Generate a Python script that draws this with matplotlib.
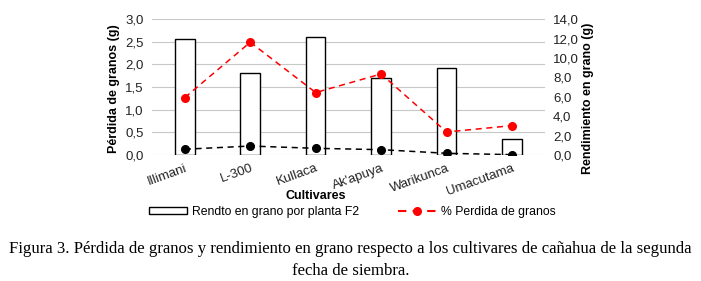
import matplotlib
matplotlib.use("Agg")
import matplotlib.pyplot as plt
from matplotlib.patches import Patch
from matplotlib.lines import Line2D
from matplotlib.ticker import FuncFormatter

cultivares = ["Illimani", "L-300", "Kullaca", "Ak'apuya", "Warikunca", "Umacutama"]
rendimiento = [12.0, 8.5, 12.2, 7.9, 9.0, 1.7]        # eje derecho (g)
perdida_pct = [1.27, 2.49, 1.38, 1.79, 0.51, 0.65]   # linea roja, eje izquierdo
perdida_g = [0.13, 0.20, 0.15, 0.12, 0.04, 0.01]     # linea negra, eje izquierdo

plt.rcParams['font.family'] = ['Liberation Sans', 'DejaVu Sans']

fig = plt.figure(figsize=(7.01, 2.81), dpi=100)
ax = fig.add_axes([0.217, 0.448, 0.56, 0.484])
ax2 = ax.twinx()

x = list(range(len(cultivares)))

# barras en el eje derecho
ax2.bar(x, rendimiento, width=0.3, facecolor='white', edgecolor='black', linewidth=1.0, zorder=2)
ax2.set_ylim(0, 14)
ax2.set_yticks([0, 2, 4, 6, 8, 10, 12, 14])

# lineas en el eje izquierdo (dibujado encima)
ax.set_zorder(ax2.get_zorder() + 1)
ax.patch.set_visible(False)
ax.plot(x, perdida_pct, color='red', linestyle=(0, (4, 3)), linewidth=1.1,
        marker='o', markersize=5.5, zorder=3)
ax.plot(x, perdida_g, color='black', linestyle=(0, (4, 3)), linewidth=1.1,
        marker='o', markersize=5.5, zorder=3)
ax.set_ylim(0, 3)
ax.set_yticks([0, 0.5, 1, 1.5, 2, 2.5, 3])
ax.set_xlim(-0.5, len(cultivares) - 0.5)

for a in (ax, ax2):
    a.yaxis.set_major_formatter(FuncFormatter(lambda v, p: f"{v:.1f}".replace('.', ',')))
    for s in a.spines.values():
        s.set_visible(False)
    a.tick_params(length=0, labelsize=9.5, pad=6, labelcolor='#222222')

# rejilla
for v in ax.get_yticks():
    ax2.axhline(v * 14 / 3, color='#c8c8c8', linewidth=0.8, zorder=0)

ax.set_xticks(x)
ax.set_xticklabels(cultivares, rotation=20, ha='right', rotation_mode='anchor')
ax.tick_params(axis='x', pad=5)

ax.set_ylabel("Pérdida de granos (g)", fontsize=9, fontweight='bold')
ax.yaxis.set_label_coords(-0.082, 0.49)
ax2.set_ylabel("Rendimiento en grano (g)", fontsize=9, fontweight='bold')
ax2.yaxis.set_label_coords(1.094, 0.42)
ax.set_xlabel("Cultivares", fontsize=9, fontweight='bold')
ax.xaxis.set_label_coords(0.417, -0.255)

handles = [Patch(facecolor='white', edgecolor='black', linewidth=1.0),
           Line2D([0], [0], color='red', linestyle=(0, (4, 3)), linewidth=1.5,
                  marker='o', markersize=5.5)]
fig.legend(handles, ["Rendto en grano por planta F2", "% Perdida de granos"],
           loc='center', bbox_to_anchor=(0.503, 0.247), ncol=2, frameon=False,
           fontsize=8.8, handlelength=3.1, handleheight=0.45, columnspacing=3.2,
           handletextpad=0.4)

fig.text(0.5, 0.113, "Figura 3. Pérdida de granos y rendimiento en grano respecto a los cultivares de cañahua de la segunda",
         ha='center', va='center', fontsize=12.1, family=['Liberation Serif', 'DejaVu Serif'])
fig.text(0.5, 0.035, "fecha de siembra.", ha='center', va='center', fontsize=12.1,
         family=['Liberation Serif', 'DejaVu Serif'])

fig.savefig("out.png", dpi=100)
